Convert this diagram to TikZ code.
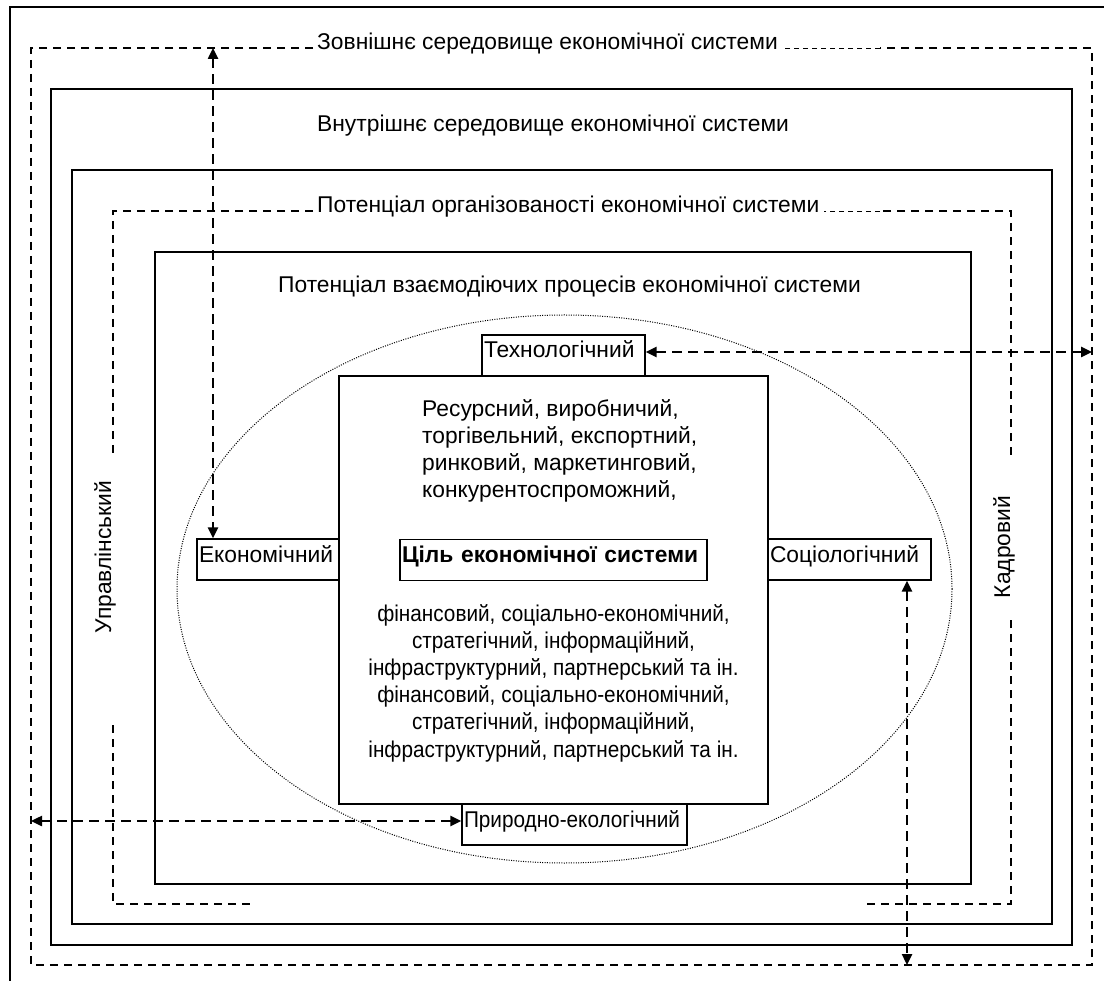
\documentclass[tikz,border=0pt]{standalone}
\usepackage{fontspec}
\setmainfont{Liberation Sans}
\newfontfamily\narrowfont[FakeStretch=0.91]{Liberation Sans}
\usetikzlibrary{arrows.meta}

\tikzset{
  frame/.style={line width=1.4pt},
  dashframe/.style={line width=1.1pt,dash pattern=on 8pt off 6pt},
  dashtail/.style={line width=0.9pt,dash pattern=on 5pt off 4pt},
  link/.style={<->,line width=2.4pt,dash pattern=on 10pt off 6pt},
  potbox/.style={draw,line width=1.3pt,minimum height=41pt,inner xsep=2pt,inner ysep=0pt,
    align=left,text height=16pt,text depth=11pt},
  lbl/.style={inner sep=4pt,anchor=base west}
}

\begin{document}
\begin{tikzpicture}[line join=miter,>={Triangle[length=11pt,width=10pt]},x=1pt,y=-1pt,font=\fontsize{22.8}{27}\selectfont]
	\useasboundingbox (0,0) rectangle (1104,981);
	% frames
	\draw[frame] (10,981) -- (10,7) -- (1104,7);
	\draw[frame] (51,89) rectangle (1072,945);
	\draw[frame] (72,170) rectangle (1052,924);
	\draw[frame] (155,252) rectangle (971,884);
	% level labels
	\node[lbl] (zovn) at (313,50) {Зовнішнє середовище економічної системи};
	\node[lbl] (vnut) at (313,132) {Внутрішнє середовище економічної системи};
	\node[lbl] (orgn) at (313,213) {Потенціал організованості економічної системи};
	\node[lbl] (vzaem) at (274,293) {Потенціал взаємодіючих процесів економічної системи};
	\node[rotate=90] (uprav) at (105,557) {Управлінський};
	\node[rotate=90] (kadr) at (1004,547) {Кадровий};
	% dashed frames
	\coordinate (o1) at (31,48);
	\coordinate (o2) at (31,965);
	\coordinate (o3) at (1092,965);
	\coordinate (o4) at (1092,48);
	\draw[dashframe] (zovn.west |- o1) -- (o1) -- (o2) -- (o3) -- (o4) -- (880,48);
	\draw[dashtail] (880,48) -- (zovn.east |- o4);
	\coordinate (r1) at (113,211);
	\coordinate (r2) at (113,904);
	\coordinate (r3) at (1011,904);
	\coordinate (r4) at (1011,211);
	\draw[dashframe] (orgn.west |- r1) -- (r1) -- (113,453);
	\draw[dashframe] (113,725) -- (r2) -- (250,904);
	\draw[dashframe] (867,904) -- (r3) -- (1011,618);
	\draw[dashframe] (1011,455) -- (r4) -- (880,211);
	\draw[dashtail] (880,211) -- (orgn.east |- r4);
	% processes
	\draw[line width=1pt,dash pattern=on 1pt off 1.4pt] (564.5,589) ellipse [x radius=387.5pt,y radius=274pt];
	\node[draw,frame,minimum width=429pt,minimum height=428pt] (core) at (553.5,590) {};
	\node[potbox,text width=159pt] (tech) at (563.5,355.5) {Технологічний};
	\node[potbox,text width=138pt] (ekon) at (268,559.5) {Економічний};
	\node[potbox,text width=159pt] (soc) at (849.5,559.5) {Соціологічний};
	\node[potbox,text width=221pt] (pryr) at (574.5,824.5) {\narrowfont Природно-екологічний};
	\node[potbox,text width=303pt,font=\fontsize{22.8}{27}\selectfont\bfseries] (goal) at (553.5,560) {Ціль економічної системи};
	\node[anchor=north west,align=left,inner sep=0pt] (res) at (422,399) {Ресурсний, виробничий,\\торгівельний, експортний,\\ринковий, маркетинговий,\\конкурентоспроможний,};
	\node[anchor=north,align=center,inner sep=0pt,font=\narrowfont\fontsize{22.8}{27.2}\selectfont] (fin) at (553.5,604) {фінансовий, соціально-економічний,\\стратегічний, інформаційний,\\інфраструктурний, партнерський та ін.\\фінансовий, соціально-економічний,\\стратегічний, інформаційний,\\інфраструктурний, партнерський та ін.};
	% links
	\coordinate (a1) at (213,48);
	\coordinate (a2) at (1092,352);
	\coordinate (a3) at (31,821);
	\coordinate (a4) at (907,965);
	\draw[link] (a1) -- (a1 |- ekon.north);
	\draw[link] (a2 -| tech.east) -- (a2);
	\draw[link] (a3) -- (a3 -| pryr.west);
	\draw[link] (a4 |- soc.south) -- (a4);
\end{tikzpicture}
\end{document}
